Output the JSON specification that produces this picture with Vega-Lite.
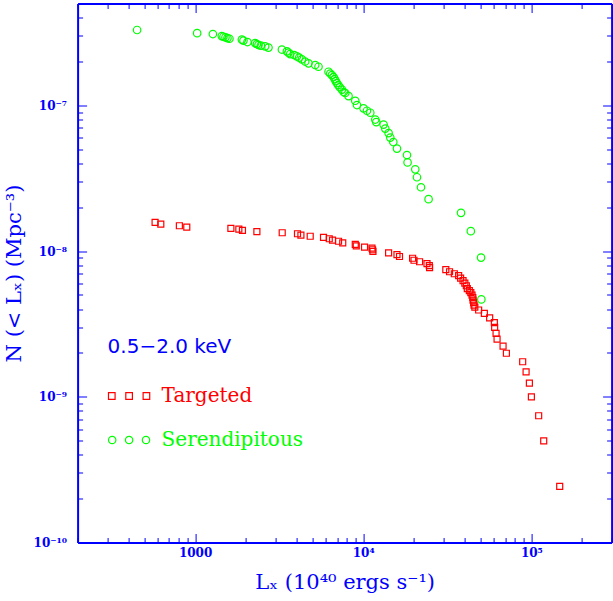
{
  "$schema": "https://vega.github.io/schema/vega-lite/v6.json",
  "width": 534,
  "height": 539,
  "autosize": {"type": "none"},
  "padding": {"left": 77.6, "top": 3.5, "right": 1.4, "bottom": 58.5},
  "background": "white",
  "config": {
    "view": {"stroke": null},
    "axis": {
      "grid": false,
      "domainColor": "#0000ff",
      "domainWidth": 2,
      "tickColor": "#0000ff",
      "tickWidth": 1,
      "labelColor": "#0000ff",
      "titleColor": "#0000ff",
      "labelFont": "DejaVu Serif",
      "labelFontWeight": "bold",
      "labelFontSize": 12,
      "titleFont": "DejaVu Serif",
      "titleFontWeight": "normal",
      "titleFontSize": 21,
      "labelOverlap": false,
      "labelFlush": false
    }
  },
  "data": {
    "values": [
      {"s": "Serendipitous", "x": 451.7, "y": 3.29e-7},
      {"s": "Serendipitous", "x": 1028, "y": 3.13e-7},
      {"s": "Serendipitous", "x": 1275, "y": 3.086e-7},
      {"s": "Serendipitous", "x": 1441, "y": 2.989e-7},
      {"s": "Serendipitous", "x": 1474, "y": 2.956e-7},
      {"s": "Serendipitous", "x": 1515, "y": 2.928e-7},
      {"s": "Serendipitous", "x": 1557, "y": 2.896e-7},
      {"s": "Serendipitous", "x": 1600, "y": 2.864e-7},
      {"s": "Serendipitous", "x": 1897, "y": 2.828e-7},
      {"s": "Serendipitous", "x": 1939, "y": 2.784e-7},
      {"s": "Serendipitous", "x": 2048, "y": 2.719e-7},
      {"s": "Serendipitous", "x": 2276, "y": 2.676e-7},
      {"s": "Serendipitous", "x": 2330, "y": 2.634e-7},
      {"s": "Serendipitous", "x": 2382, "y": 2.593e-7},
      {"s": "Serendipitous", "x": 2461, "y": 2.572e-7},
      {"s": "Serendipitous", "x": 2610, "y": 2.54e-7},
      {"s": "Serendipitous", "x": 2731, "y": 2.492e-7},
      {"s": "Serendipitous", "x": 3282, "y": 2.415e-7},
      {"s": "Serendipitous", "x": 3514, "y": 2.347e-7},
      {"s": "Serendipitous", "x": 3593, "y": 2.303e-7},
      {"s": "Serendipitous", "x": 3677, "y": 2.249e-7},
      {"s": "Serendipitous", "x": 3884, "y": 2.214e-7},
      {"s": "Serendipitous", "x": 4031, "y": 2.169e-7},
      {"s": "Serendipitous", "x": 4159, "y": 2.128e-7},
      {"s": "Serendipitous", "x": 4316, "y": 2.069e-7},
      {"s": "Serendipitous", "x": 4516, "y": 1.998e-7},
      {"s": "Serendipitous", "x": 4725, "y": 1.942e-7},
      {"s": "Serendipitous", "x": 5179, "y": 1.891e-7},
      {"s": "Serendipitous", "x": 5418, "y": 1.841e-7},
      {"s": "Serendipitous", "x": 6216, "y": 1.701e-7},
      {"s": "Serendipitous", "x": 6362, "y": 1.653e-7},
      {"s": "Serendipitous", "x": 6512, "y": 1.614e-7},
      {"s": "Serendipitous", "x": 6656, "y": 1.564e-7},
      {"s": "Serendipitous", "x": 6767, "y": 1.515e-7},
      {"s": "Serendipitous", "x": 6860, "y": 1.468e-7},
      {"s": "Serendipitous", "x": 6974, "y": 1.422e-7},
      {"s": "Serendipitous", "x": 7099, "y": 1.378e-7},
      {"s": "Serendipitous", "x": 7247, "y": 1.335e-7},
      {"s": "Serendipitous", "x": 7469, "y": 1.283e-7},
      {"s": "Serendipitous", "x": 7655, "y": 1.234e-7},
      {"s": "Serendipitous", "x": 7815, "y": 1.215e-7},
      {"s": "Serendipitous", "x": 8175, "y": 1.158e-7},
      {"s": "Serendipitous", "x": 8965, "y": 1.075e-7},
      {"s": "Serendipitous", "x": 9176, "y": 1.005e-7},
      {"s": "Serendipitous", "x": 10042, "y": 9.54e-8},
      {"s": "Serendipitous", "x": 10520, "y": 9.18e-8},
      {"s": "Serendipitous", "x": 11010, "y": 8.9e-8},
      {"s": "Serendipitous", "x": 11790, "y": 7.99e-8},
      {"s": "Serendipitous", "x": 11950, "y": 7.68e-8},
      {"s": "Serendipitous", "x": 13210, "y": 7.38e-8},
      {"s": "Serendipitous", "x": 13520, "y": 6.93e-8},
      {"s": "Serendipitous", "x": 14150, "y": 6.45e-8},
      {"s": "Serendipitous", "x": 14480, "y": 6.01e-8},
      {"s": "Serendipitous", "x": 15090, "y": 5.6e-8},
      {"s": "Serendipitous", "x": 15870, "y": 5.05e-8},
      {"s": "Serendipitous", "x": 18200, "y": 4.56e-8},
      {"s": "Serendipitous", "x": 18350, "y": 4.06e-8},
      {"s": "Serendipitous", "x": 20390, "y": 3.64e-8},
      {"s": "Serendipitous", "x": 20870, "y": 3.21e-8},
      {"s": "Serendipitous", "x": 22050, "y": 2.74e-8},
      {"s": "Serendipitous", "x": 24470, "y": 2.27e-8},
      {"s": "Serendipitous", "x": 38150, "y": 1.83e-8},
      {"s": "Serendipitous", "x": 43630, "y": 1.37e-8},
      {"s": "Serendipitous", "x": 50190, "y": 9.02e-9},
      {"s": "Serendipitous", "x": 50390, "y": 4.66e-9},
      {"s": "Targeted", "x": 578, "y": 1.574e-8},
      {"s": "Targeted", "x": 625, "y": 1.532e-8},
      {"s": "Targeted", "x": 806, "y": 1.492e-8},
      {"s": "Targeted", "x": 892, "y": 1.461e-8},
      {"s": "Targeted", "x": 1632, "y": 1.432e-8},
      {"s": "Targeted", "x": 1820, "y": 1.416e-8},
      {"s": "Targeted", "x": 1912, "y": 1.387e-8},
      {"s": "Targeted", "x": 2330, "y": 1.361e-8},
      {"s": "Targeted", "x": 3296, "y": 1.336e-8},
      {"s": "Targeted", "x": 4064, "y": 1.315e-8},
      {"s": "Targeted", "x": 4258, "y": 1.288e-8},
      {"s": "Targeted", "x": 4836, "y": 1.264e-8},
      {"s": "Targeted", "x": 5803, "y": 1.242e-8},
      {"s": "Targeted", "x": 6276, "y": 1.215e-8},
      {"s": "Targeted", "x": 6567, "y": 1.19e-8},
      {"s": "Targeted", "x": 7129, "y": 1.168e-8},
      {"s": "Targeted", "x": 7551, "y": 1.14e-8},
      {"s": "Targeted", "x": 8965, "y": 1.113e-8},
      {"s": "Targeted", "x": 9088, "y": 1.087e-8},
      {"s": "Targeted", "x": 10180, "y": 1.065e-8},
      {"s": "Targeted", "x": 11270, "y": 1.048e-8},
      {"s": "Targeted", "x": 11360, "y": 1.021e-8},
      {"s": "Targeted", "x": 11420, "y": 9.95e-9},
      {"s": "Targeted", "x": 14150, "y": 9.72e-9},
      {"s": "Targeted", "x": 15870, "y": 9.46e-9},
      {"s": "Targeted", "x": 16430, "y": 9.18e-9},
      {"s": "Targeted", "x": 19660, "y": 8.93e-9},
      {"s": "Targeted", "x": 20040, "y": 8.65e-9},
      {"s": "Targeted", "x": 21630, "y": 8.45e-9},
      {"s": "Targeted", "x": 23940, "y": 8.21e-9},
      {"s": "Targeted", "x": 24710, "y": 7.95e-9},
      {"s": "Targeted", "x": 24810, "y": 7.7e-9},
      {"s": "Targeted", "x": 30980, "y": 7.46e-9},
      {"s": "Targeted", "x": 32600, "y": 7.21e-9},
      {"s": "Targeted", "x": 34810, "y": 6.99e-9},
      {"s": "Targeted", "x": 36930, "y": 6.79e-9},
      {"s": "Targeted", "x": 37950, "y": 6.53e-9},
      {"s": "Targeted", "x": 39220, "y": 6.27e-9},
      {"s": "Targeted", "x": 40200, "y": 6.03e-9},
      {"s": "Targeted", "x": 41030, "y": 5.78e-9},
      {"s": "Targeted", "x": 41590, "y": 5.53e-9},
      {"s": "Targeted", "x": 42750, "y": 5.36e-9},
      {"s": "Targeted", "x": 43630, "y": 5.19e-9},
      {"s": "Targeted", "x": 44360, "y": 4.99e-9},
      {"s": "Targeted", "x": 44850, "y": 4.8e-9},
      {"s": "Targeted", "x": 44970, "y": 4.61e-9},
      {"s": "Targeted", "x": 45340, "y": 4.43e-9},
      {"s": "Targeted", "x": 45590, "y": 4.26e-9},
      {"s": "Targeted", "x": 46100, "y": 4.13e-9},
      {"s": "Targeted", "x": 48560, "y": 3.94e-9},
      {"s": "Targeted", "x": 52520, "y": 3.74e-9},
      {"s": "Targeted", "x": 56470, "y": 3.48e-9},
      {"s": "Targeted", "x": 60230, "y": 3.23e-9},
      {"s": "Targeted", "x": 60470, "y": 2.99e-9},
      {"s": "Targeted", "x": 61650, "y": 2.72e-9},
      {"s": "Targeted", "x": 62500, "y": 2.49e-9},
      {"s": "Targeted", "x": 67850, "y": 2.23e-9},
      {"s": "Targeted", "x": 71020, "y": 1.99e-9},
      {"s": "Targeted", "x": 88770, "y": 1.74e-9},
      {"s": "Targeted", "x": 93000, "y": 1.48e-9},
      {"s": "Targeted", "x": 97300, "y": 1.24e-9},
      {"s": "Targeted", "x": 100000, "y": 1.0e-9},
      {"s": "Targeted", "x": 110500, "y": 7.41e-10},
      {"s": "Targeted", "x": 118400, "y": 4.99e-10},
      {"s": "Targeted", "x": 147400, "y": 2.43e-10}
    ]
  },
  "layer": [
    {
      "transform": [{"filter": "datum.s == 'Targeted'"}],
      "mark": {"type": "point", "shape": "square", "filled": false, "size": 36, "strokeWidth": 1.2, "opacity": 1},
      "encoding": {
        "x": {
          "field": "x", "type": "quantitative",
          "scale": {"type": "log", "domain": [200, 300000], "nice": false},
          "axis": {
            "orient": "bottom",
            "title": "Lₓ (10⁴⁰ ergs s⁻¹)",
            "titlePadding": 9,
            "tickSize": {"condition": {"test": "abs(log(datum.value)/LN10 - round(log(datum.value)/LN10)) < 1e-6", "value": -9}, "value": -5},
            "labelPadding": 14,
            "labelExpr": "abs(log(datum.value)/LN10 - round(log(datum.value)/LN10)) < 1e-6 ? (round(log(datum.value)/LN10) == 3 ? '1000' : round(log(datum.value)/LN10) == 4 ? '10⁴' : round(log(datum.value)/LN10) == 5 ? '10⁵' : '') : ''"
          }
        },
        "y": {
          "field": "y", "type": "quantitative",
          "scale": {"type": "log", "domain": [1e-10, 5e-7], "nice": false},
          "axis": {
            "orient": "left",
            "title": "N (< Lₓ) (Mpc⁻³)",
            "titlePadding": 9,
            "tickSize": {"condition": {"test": "abs(log(datum.value)/LN10 - round(log(datum.value)/LN10)) < 1e-6", "value": -9}, "value": -5},
            "labelPadding": 20,
            "labelExpr": "abs(log(datum.value)/LN10 - round(log(datum.value)/LN10)) < 1e-6 ? (round(log(datum.value)/LN10) == -7 ? '10⁻⁷' : round(log(datum.value)/LN10) == -8 ? '10⁻⁸' : round(log(datum.value)/LN10) == -9 ? '10⁻⁹' : round(log(datum.value)/LN10) == -10 ? '10⁻¹⁰' : '') : ''"
          }
        },
        "color": {
          "field": "s", "type": "nominal",
          "scale": {"domain": ["Targeted"], "range": ["#ff0000"]},
          "legend": {
            "orient": "none",
            "legendX": 30,
            "legendY": 333,
            "padding": 0,
            "title": "0.5−2.0 keV",
            "titleFont": "DejaVu Sans",
            "titleFontSize": 20,
            "titleFontWeight": "normal",
            "titleColor": "#0000ff",
            "titlePadding": 18,
            "symbolType": "M-1,-0.16L-0.68,-0.16L-0.68,0.16L-1,0.16Z M-0.16,-0.16L0.16,-0.16L0.16,0.16L-0.16,0.16Z M0.68,-0.16L1,-0.16L1,0.16L0.68,0.16Z",
            "symbolSize": 1700,
            "symbolStrokeWidth": 1.2,
            "symbolStrokeColor": "#ff0000",
            "symbolFillColor": "transparent",
            "labelFont": "DejaVu Serif",
            "labelFontSize": 20,
            "labelColor": "#ff0000",
            "labelOffset": 11
          }
        }
      }
    },
    {
      "transform": [{"filter": "datum.s == 'Serendipitous'"}],
      "mark": {"type": "point", "shape": "circle", "filled": false, "size": 56, "strokeWidth": 1.2, "opacity": 1},
      "encoding": {
        "x": {
          "field": "x", "type": "quantitative",
          "axis": {
            "orient": "top",
            "title": null,
            "labels": false,
            "tickSize": {"condition": {"test": "abs(log(datum.value)/LN10 - round(log(datum.value)/LN10)) < 1e-6", "value": -9}, "value": -5}
          }
        },
        "y": {
          "field": "y", "type": "quantitative",
          "axis": {
            "orient": "right",
            "title": null,
            "labels": false,
            "tickSize": {"condition": {"test": "abs(log(datum.value)/LN10 - round(log(datum.value)/LN10)) < 1e-6", "value": -9}, "value": -5}
          }
        },
        "color": {
          "field": "s", "type": "nominal",
          "scale": {"domain": ["Serendipitous"], "range": ["#00ff00"]},
          "legend": {
            "orient": "none",
            "legendX": 30,
            "legendY": 415,
            "padding": 0,
            "title": null,
            "symbolType": "M-1,0A0.18,0.18 0 1,0 -0.64,0A0.18,0.18 0 1,0 -1,0Z M-0.18,0A0.18,0.18 0 1,0 0.18,0A0.18,0.18 0 1,0 -0.18,0Z M0.64,0A0.18,0.18 0 1,0 1,0A0.18,0.18 0 1,0 0.64,0Z",
            "symbolSize": 1700,
            "symbolStrokeWidth": 1.2,
            "symbolStrokeColor": "#00ff00",
            "symbolFillColor": "transparent",
            "labelFont": "DejaVu Serif",
            "labelFontSize": 20,
            "labelColor": "#00ff00",
            "labelOffset": 11
          }
        }
      }
    }
  ],
  "resolve": {
    "scale": {"color": "independent"},
    "axis": {"x": "independent", "y": "independent"}
  }
}
